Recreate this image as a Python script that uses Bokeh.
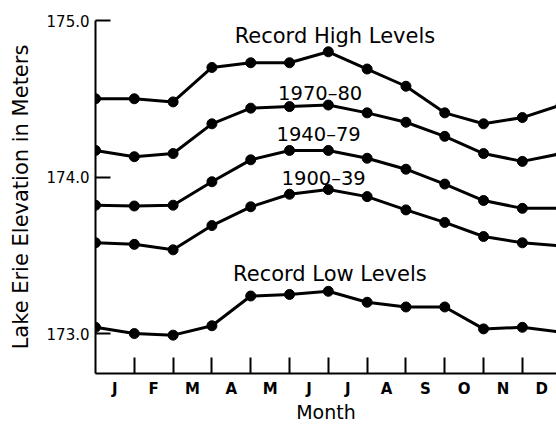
from bokeh.plotting import figure
from bokeh.models import Range1d, FixedTicker
from bokeh.core.properties import value
from bokeh.embed import file_html
from bokeh.resources import INLINE

# ---- data ----
months = ["J", "F", "M", "A", "M", "J", "J", "A", "S", "O", "N", "D"]
month_pos = list(range(13))  # start of each month, then January of the next year
record_high = [174.50, 174.50, 174.48, 174.70, 174.73, 174.73, 174.80, 174.69, 174.58, 174.41, 174.34, 174.38, 174.46]
avg_1970_80 = [174.17, 174.13, 174.15, 174.34, 174.44, 174.45, 174.46, 174.41, 174.35, 174.26, 174.15, 174.10, 174.15]
avg_1940_79 = [173.82, 173.815, 173.82, 173.97, 174.11, 174.17, 174.17, 174.12, 174.05, 173.955, 173.85, 173.80, 173.80]
avg_1900_39 = [173.58, 173.57, 173.535, 173.69, 173.81, 173.89, 173.92, 173.875, 173.79, 173.71, 173.62, 173.58, 173.56]
record_low = [173.04, 173.00, 172.99, 173.05, 173.24, 173.25, 173.27, 173.20, 173.17, 173.17, 173.03, 173.04, 173.01]

y_tick_values = [173, 174, 175]
y_tick_labels = ["173.0", "174.0", "175.0"]

record_names = ["Record High Levels", "Record Low Levels"]
record_label_x = [6.17, 6.04]
record_label_y = [174.898, 173.378]
period_names = ["1970–80", "1940–79", "1900–39"]
period_label_x = [5.79, 5.75, 5.88]
period_label_y = [174.535, 174.27, 173.99]

FONT = "DejaVu Sans"

p = figure(width=556, height=425,
           x_range=Range1d(0, 11.88), y_range=Range1d(172.745, 175.0),
           output_backend="svg", toolbar_location=None,
           min_border_left=95, min_border_right=0, min_border_top=20, min_border_bottom=0)
p.outline_line_color = None
p.xgrid.grid_line_color = None
p.ygrid.grid_line_color = None
p.background_fill_color = "white"
p.border_fill_color = "white"

for series in [record_high, avg_1970_80, avg_1940_79, avg_1900_39, record_low]:
    p.line(month_pos, series, line_width=3, line_color="black")
    p.scatter(month_pos, series, size=10, fill_color="black", line_color="black")

p.text(x=record_label_x, y=record_label_y, text=record_names,
       text_align="center", text_baseline="alphabetic",
       text_font=value(FONT), text_font_size="21px", text_color="black")
p.text(x=period_label_x, y=period_label_y, text=period_names,
       text_align="center", text_baseline="alphabetic",
       text_font=value(FONT), text_font_size="19.5px", text_color="black")

# x axis: tick marks at month boundaries, labels in the middle of each month
xa = p.xaxis[0]
xa.ticker = FixedTicker(ticks=[i + 0.5 for i in range(12)], minor_ticks=list(range(1, 13)))
xa.major_label_overrides = {i + 0.5: m for i, m in enumerate(months)}
xa.major_tick_in = 0
xa.major_tick_out = 0
xa.minor_tick_in = 16
xa.minor_tick_out = 0
xa.minor_tick_line_width = 2
xa.minor_tick_line_color = "black"
xa.axis_line_width = 2
xa.axis_line_color = "black"
xa.major_label_standoff = 6
xa.major_label_text_font = FONT
xa.major_label_text_font_style = "bold"
xa.major_label_text_font_size = "15px"
xa.major_label_text_color = "black"
xa.axis_label = "Month"
xa.axis_label_text_font = FONT
xa.axis_label_text_font_style = "normal"
xa.axis_label_text_font_size = "19px"
xa.axis_label_text_color = "black"
xa.axis_label_standoff = 0

ya = p.yaxis[0]
ya.ticker = FixedTicker(ticks=y_tick_values, minor_ticks=[])
ya.major_label_overrides = {v: s for v, s in zip(y_tick_values, y_tick_labels)}
ya.major_tick_in = 15
ya.major_tick_out = 0
ya.major_tick_line_width = 2
ya.major_tick_line_color = "black"
ya.minor_tick_in = 0
ya.minor_tick_out = 0
ya.axis_line_width = 2
ya.axis_line_color = "black"
ya.major_label_standoff = 6
ya.major_label_text_font = FONT
ya.major_label_text_font_size = "15px"
ya.major_label_text_color = "black"
ya.axis_label = "Lake Erie Elevation in Meters"
ya.axis_label_text_font = FONT
ya.axis_label_text_font_style = "normal"
ya.axis_label_text_font_size = "21px"
ya.axis_label_text_color = "black"
ya.axis_label_standoff = 11

open("out.html", "w").write(file_html(p, INLINE))
